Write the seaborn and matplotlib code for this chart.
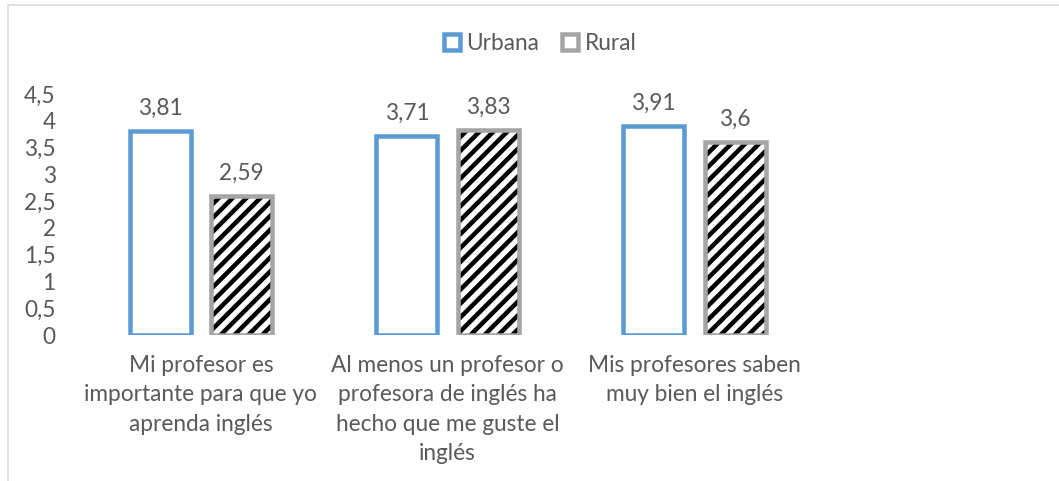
import pandas as pd
import matplotlib
matplotlib.use("Agg")
import matplotlib.pyplot as plt
from matplotlib.patches import Rectangle, Patch
import seaborn as sns

# --- Data ---
PREGUNTAS = [
    "Mi profesor es\nimportante para que yo\naprenda inglés",
    "Al menos un profesor o\nprofesora de inglés ha\nhecho que me guste el\ninglés",
    "Mis profesores saben\nmuy bien el inglés",
]
URBANA = [3.81, 3.71, 3.91]
RURAL = [2.59, 3.83, 3.60]
ZONAS = ["Urbana", "Rural"]
Y_TICKS = [0, 0.5, 1, 1.5, 2, 2.5, 3, 3.5, 4, 4.5]

# --- Style ---
BLUE = "#5B9BD5"
GRAY = "#A5A5A5"
TEXT = "#595959"
DPI = 125
FS = 13


def coma(v):
    return f"{v:g}".replace(".", ",")


def main():
    sns.set_theme(style="white")
    plt.rcParams["font.family"] = ["Lato", "DejaVu Sans"]
    plt.rcParams["hatch.linewidth"] = 2.6

    df = pd.DataFrame({
        "pregunta": PREGUNTAS * 2,
        "valor": URBANA + RURAL,
        "zona": [ZONAS[0]] * len(URBANA) + [ZONAS[1]] * len(RURAL),
    })

    fig = plt.figure(figsize=(1059 / DPI, 481 / DPI), dpi=DPI)
    ax = fig.add_axes([0.0732, 0.3035, 0.699, 0.501])

    sns.barplot(data=df, x="pregunta", y="valor", hue="zona", hue_order=ZONAS,
                order=PREGUNTAS, width=0.66, gap=0.25, errorbar=None,
                legend=False, ax=ax)

    urb, rur = ax.containers[0], ax.containers[1]
    for p in urb:
        p.set_facecolor("white")
        p.set_edgecolor(BLUE)
        p.set_linewidth(2.6)
    for p in rur:
        p.set_facecolor("white")
        p.set_edgecolor("black")
        p.set_hatch("///")
        p.set_linewidth(0)
        ax.add_patch(Rectangle(p.get_xy(), p.get_width(), p.get_height(),
                               fill=False, edgecolor=GRAY, linewidth=2.6, zorder=p.get_zorder() + 0.1))

    for cont in (urb, rur):
        ax.bar_label(cont, fmt=coma, padding=7, fontsize=FS, color=TEXT)

    ax.set_xlim(-0.5, len(PREGUNTAS) - 0.5)
    ax.set_ylim(0, 4.5)
    ax.set_yticks(Y_TICKS)
    ax.set_yticklabels([coma(t) for t in Y_TICKS])
    ax.set_xlabel("")
    ax.set_ylabel("")
    ax.tick_params(axis="both", length=0, colors=TEXT, labelsize=FS)
    ax.tick_params(axis="y", pad=12.5)
    ax.tick_params(axis="x", pad=11.5)
    for lab in ax.get_xticklabels():
        lab.set_linespacing(1.5)
    sns.despine(ax=ax, left=True, bottom=True)

    handles = [
        Patch(facecolor="white", edgecolor=BLUE, linewidth=2.6),
        Patch(facecolor="white", edgecolor=GRAY, linewidth=2.6),
    ]
    fig.legend(handles, ZONAS, loc="center", bbox_to_anchor=(0.51, 0.91), ncol=2,
               frameon=False, fontsize=FS, labelcolor=TEXT, handlelength=0.7,
               handleheight=0.7, handletextpad=0.3, columnspacing=1.0)

    # chart frame (cropped on the right and bottom)
    fig.patches.append(Rectangle((8 / 1059, -0.1), 1.2, 476 / 481 + 0.1,
                                 transform=fig.transFigure, fill=False,
                                 edgecolor="#D9D9D9", linewidth=0.9))

    fig.savefig("out.png", dpi=DPI)
    plt.close(fig)


if __name__ == "__main__":
    main()
